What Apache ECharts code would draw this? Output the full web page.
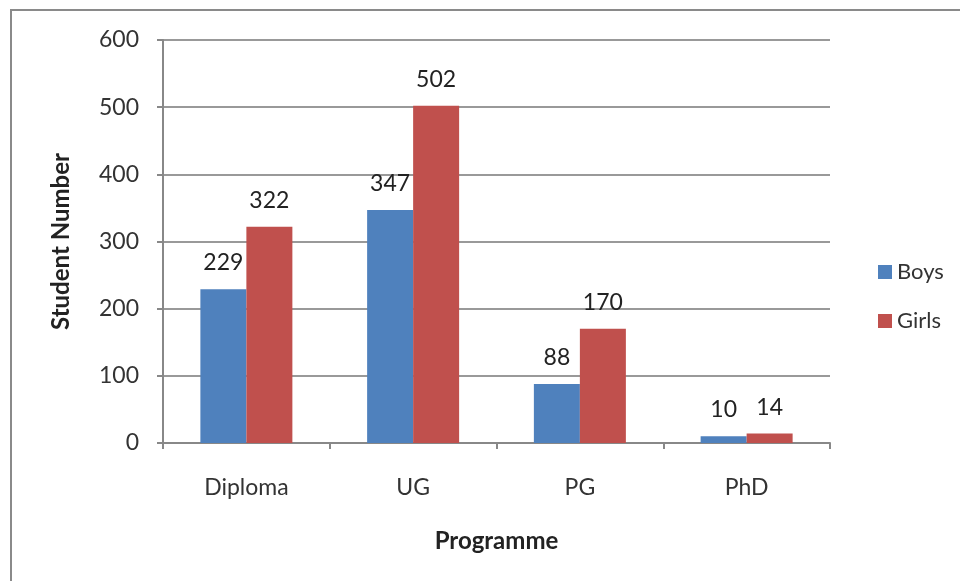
<!DOCTYPE html>
<html>
<head>
<meta charset="utf-8">
<script src="https://cdn.jsdelivr.net/npm/echarts@6/dist/echarts.min.js"></script>
<style>
    html, body {margin: 0; padding: 0; background: #fff;}
    #main {width: 960px; height: 581px;}
</style>
</head>
<body>
<div id="main"></div>
<script>
const programmes = ['Diploma', 'UG', 'PG', 'PhD'];
const boys = [229, 347, 88, 10];
const girls = [322, 502, 170, 14];
const yTicks = [0, 100, 200, 300, 400, 500, 600];

const font = 'Lato, "Open Sans", sans-serif';
let chart = echarts.init(document.getElementById('main'));

chart.setOption({
    backgroundColor: '#fff',
    animation: false,
    textStyle: {fontFamily: font},
    graphic: [{
        type: 'rect',
        shape: {x: 11, y: 10, width: 1200, height: 1000},
        style: {fill: 'none', stroke: '#8a8a8a', lineWidth: 2}
    }],
    grid: {left: 163, top: 40, right: 130, bottom: 138},
    legend: {
        orient: 'vertical',
        left: 873, top: 256,
        itemWidth: 14, itemHeight: 14, itemGap: 27,
        icon: 'rect',
        textStyle: {fontSize: 22, color: '#333', fontFamily: font}
    },
    xAxis: {
        type: 'category',
        data: programmes,
        name: 'Programme',
        nameLocation: 'middle',
        nameGap: 86,
        nameTextStyle: {fontSize: 24, fontWeight: 'bold', color: '#222', fontFamily: font},
        axisLine: {lineStyle: {color: '#888', width: 2}},
        axisTick: {show: true, length: 6, lineStyle: {color: '#888', width: 2}},
        axisLabel: {fontSize: 23, color: '#333', margin: 33, fontFamily: font}
    },
    yAxis: {
        type: 'value',
        min: yTicks[0], max: yTicks[yTicks.length - 1], interval: 100,
        name: 'Student Number',
        nameLocation: 'middle',
        nameGap: 90,
        nameTextStyle: {fontSize: 24, fontWeight: 'bold', color: '#222', fontFamily: font},
        axisLine: {show: true, lineStyle: {color: '#888', width: 2}},
        axisTick: {show: true, length: 6, lineStyle: {color: '#888', width: 2}},
        axisLabel: {fontSize: 23, color: '#333', margin: 24, fontFamily: font},
        splitLine: {lineStyle: {color: '#999', width: 2}}
    },
    series: [
        {
            name: 'Boys', type: 'bar', data: boys,
            barWidth: 46, barGap: '0%',
            itemStyle: {color: '#4F81BD'},
            label: {show: true, position: 'top', distance: 15, fontSize: 23, color: '#222', fontFamily: font}
        },
        {
            name: 'Girls', type: 'bar', data: girls,
            barWidth: 46,
            itemStyle: {color: '#C0504D'},
            label: {show: true, position: 'top', distance: 15, fontSize: 23, color: '#222', fontFamily: font}
        }
    ]
});
</script>
</body>
</html>
